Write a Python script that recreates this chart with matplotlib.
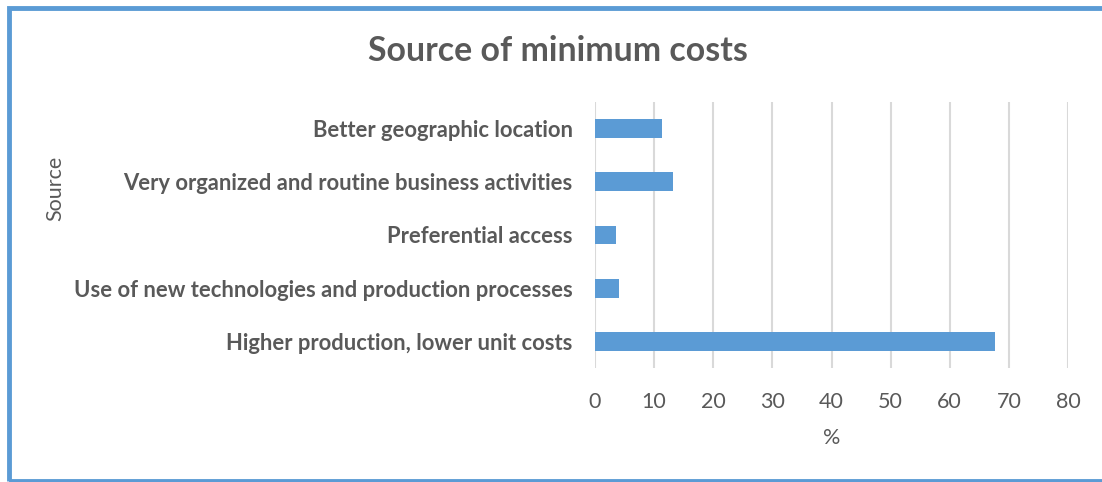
import matplotlib.pyplot as plt
from matplotlib.patches import Rectangle

# values (%)
categories = [
    "Higher production, lower unit costs",
    "Use of new technologies and production processes",
    "Preferential access",
    "Very organized and routine business activities",
    "Better geographic location",
]
values = [67.7, 4.1, 3.5, 13.2, 11.3]
xticks = [0, 10, 20, 30, 40, 50, 60, 70, 80]

TEXT = "#595959"
BAR = "#5B9BD5"
GRID = "#D9D9D9"

plt.rcParams["font.family"] = ["Lato", "DejaVu Sans"]

W, H = 1102, 482
fig = plt.figure(figsize=(W / 100, H / 100), dpi=100)

# outer frame (right side runs off the image)
fig.patches.append(Rectangle((9 / W, 1.5 / H), 1.2, 1 - 9 / H, transform=fig.transFigure,
                             fill=False, edgecolor=BAR, linewidth=3.5, zorder=0))

ax = fig.add_axes([595 / W, 1 - 368 / H, (1068 - 595) / W, (368 - 102) / H])
ax.barh(range(len(categories)), values, height=0.35, color=BAR, zorder=3)

ax.set_xlim(0, 80)
ax.set_ylim(-0.5, len(categories) - 0.5)
ax.set_xticks(xticks)
ax.set_yticks(range(len(categories)))
ax.set_yticklabels(categories, fontsize=15.8, fontweight="bold", color=TEXT)
ax.tick_params(axis="x", labelsize=15.5, colors=TEXT, length=0, pad=17)
ax.tick_params(axis="y", length=0, pad=16)
ax.grid(axis="x", color=GRID, linewidth=1.5, zorder=0)
for s in ax.spines.values():
    s.set_visible(False)

ax.set_xlabel("%", fontsize=15.5, color=TEXT, labelpad=12)
fig.text(55 / W, 1 - 188 / H, "Source", rotation=90, fontsize=15.5, color=TEXT,
         ha="center", va="center")
fig.text(558 / W, 1 - 51 / H, "Source of minimum costs", fontsize=24.4, fontweight="bold",
         color=TEXT, ha="center", va="center")

fig.savefig("out.png", dpi=100)
